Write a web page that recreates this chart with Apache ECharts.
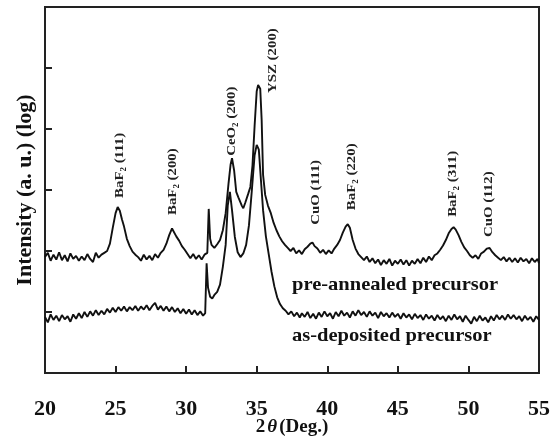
<!DOCTYPE html>
<html><head><meta charset="utf-8">
<script src="https://cdn.jsdelivr.net/npm/echarts@6/dist/echarts.min.js"></script>
<style>html,body{margin:0;padding:0;background:#fff}#c{width:557px;height:437px}</style>
</head><body><div id="c"></div>
<script>
// ---- data ----
const xTicks = [20, 25, 30, 35, 40, 45, 50, 55];
const preAnnealed = [[20.0,1.90],[20.2,1.97],[20.4,1.84],[20.6,1.94],[20.8,1.86],[21.0,1.98],[21.2,1.85],[21.4,1.93],[21.6,1.83],[21.8,1.96],[22.0,1.87],[22.2,1.92],[22.4,1.84],[22.6,1.91],[22.8,1.85],[23.0,1.95],[23.2,1.87],[23.4,1.82],[23.6,1.97],[23.8,1.89],[24.0,1.94],[24.2,1.97],[24.4,2.00],[24.6,2.12],[24.8,2.38],[25.0,2.62],[25.15,2.72],[25.3,2.66],[25.45,2.52],[25.6,2.40],[25.8,2.20],[26.0,2.08],[26.2,1.99],[26.4,1.94],[26.6,1.90],[26.8,1.84],[27.0,1.94],[27.2,1.86],[27.4,1.92],[27.6,1.85],[27.8,1.95],[28.0,1.89],[28.2,1.97],[28.4,2.02],[28.6,2.12],[28.8,2.26],[29.0,2.37],[29.1,2.36],[29.3,2.24],[29.5,2.17],[29.7,2.08],[29.9,2.02],[30.1,1.95],[30.3,1.88],[30.5,1.95],[30.7,1.87],[30.9,1.93],[31.1,1.86],[31.3,1.94],[31.5,1.97],[31.6,2.69],[31.7,2.20],[31.8,2.10],[32.0,2.05],[32.2,2.11],[32.4,2.18],[32.6,2.34],[32.8,2.62],[33.0,3.10],[33.15,3.42],[33.25,3.52],[33.4,3.32],[33.55,2.97],[33.7,2.88],[33.8,2.90],[33.95,2.74],[34.05,2.70],[34.2,2.80],[34.4,2.94],[34.55,3.05],[34.7,3.40],[34.85,4.05],[35.0,4.62],[35.1,4.72],[35.25,4.66],[35.35,4.15],[35.45,3.25],[35.6,2.92],[35.8,2.74],[36.0,2.62],[36.2,2.46],[36.4,2.34],[36.6,2.24],[36.8,2.16],[37.0,2.10],[37.2,2.05],[37.4,2.00],[37.6,2.05],[37.8,1.96],[38.0,2.01],[38.2,1.95],[38.4,2.03],[38.6,2.07],[38.8,2.12],[38.95,2.14],[39.1,2.08],[39.3,2.04],[39.5,1.97],[39.7,2.02],[39.9,1.95],[40.1,2.01],[40.3,1.96],[40.5,2.04],[40.7,2.10],[40.9,2.18],[41.1,2.30],[41.3,2.40],[41.45,2.44],[41.6,2.38],[41.8,2.18],[42.0,2.04],[42.2,1.95],[42.4,1.90],[42.6,1.85],[42.8,1.91],[43.0,1.82],[43.2,1.88],[43.4,1.80],[43.6,1.86],[43.8,1.77],[44.0,1.85],[44.2,1.79],[44.4,1.87],[44.6,1.76],[44.8,1.84],[45.0,1.79],[45.2,1.86],[45.4,1.78],[45.6,1.85],[45.8,1.76],[46.0,1.84],[46.2,1.79],[46.4,1.87],[46.6,1.80],[46.8,1.89],[47.0,1.82],[47.2,1.91],[47.4,1.85],[47.6,1.93],[47.8,1.96],[48.0,2.02],[48.2,2.09],[48.4,2.18],[48.6,2.29],[48.8,2.36],[48.95,2.39],[49.1,2.35],[49.3,2.26],[49.5,2.15],[49.7,2.06],[49.9,2.00],[50.1,1.93],[50.3,1.89],[50.5,1.93],[50.7,1.87],[50.9,1.96],[51.1,1.99],[51.3,2.04],[51.5,2.05],[51.7,1.98],[51.9,1.93],[52.1,1.89],[52.3,1.85],[52.5,1.90],[52.7,1.83],[52.9,1.89],[53.1,1.82],[53.3,1.88],[53.5,1.81],[53.7,1.89],[53.9,1.83],[54.1,1.87],[54.3,1.80],[54.5,1.88],[54.7,1.82],[54.9,1.87],[55.0,1.80]];
const asDeposited = [[20.0,0.92],[20.2,0.83],[20.4,0.96],[20.6,0.87],[20.8,0.94],[21.0,0.85],[21.2,0.95],[21.4,0.88],[21.6,0.93],[21.8,0.84],[22.0,0.96],[22.2,0.89],[22.4,0.98],[22.6,0.90],[22.8,1.00],[23.0,0.92],[23.2,1.01],[23.4,0.94],[23.6,1.03],[23.8,0.95],[24.0,1.02],[24.2,0.96],[24.4,1.05],[24.6,0.99],[24.8,1.07],[25.0,1.00],[25.2,1.08],[25.4,1.02],[25.6,1.09],[25.8,1.01],[26.0,1.08],[26.2,1.03],[26.4,1.10],[26.6,1.02],[26.8,1.09],[27.0,1.04],[27.2,1.11],[27.4,1.03],[27.6,1.10],[27.8,1.15],[28.0,1.04],[28.2,1.10],[28.4,1.02],[28.6,1.09],[28.8,1.01],[29.0,1.08],[29.2,1.00],[29.4,1.06],[29.6,0.98],[29.8,1.05],[30.0,0.97],[30.2,1.04],[30.4,0.96],[30.6,1.03],[30.8,0.95],[31.0,1.01],[31.2,0.94],[31.35,0.98],[31.45,1.80],[31.55,1.40],[31.7,1.25],[31.85,1.22],[32.0,1.28],[32.2,1.33],[32.4,1.45],[32.6,1.74],[32.8,2.10],[32.95,2.75],[33.1,2.97],[33.25,2.67],[33.45,2.23],[33.65,1.98],[33.85,1.90],[34.05,1.96],[34.25,2.10],[34.45,2.42],[34.65,2.98],[34.85,3.57],[35.0,3.74],[35.15,3.66],[35.3,3.16],[35.45,2.67],[35.65,2.24],[35.85,1.95],[36.05,1.66],[36.25,1.42],[36.45,1.24],[36.65,1.13],[36.85,1.06],[37.05,1.02],[37.25,0.96],[37.45,1.01],[37.65,0.93],[37.85,0.99],[38.05,0.91],[38.2,0.98],[38.4,0.92],[38.6,1.00],[38.8,0.90],[39.0,0.97],[39.2,0.89],[39.4,0.99],[39.6,0.92],[39.8,1.01],[40.0,0.93],[40.2,0.98],[40.4,0.89],[40.6,1.00],[40.8,0.93],[41.0,1.02],[41.2,0.94],[41.4,0.99],[41.6,0.91],[41.8,1.01],[42.0,0.94],[42.2,1.03],[42.4,0.95],[42.6,1.00],[42.8,0.92],[43.0,1.01],[43.2,0.94],[43.4,0.99],[43.6,0.90],[43.8,1.00],[44.0,0.93],[44.2,0.98],[44.4,0.91],[44.6,0.99],[44.8,0.92],[45.0,0.97],[45.2,0.89],[45.4,0.98],[45.6,0.91],[45.8,0.96],[46.0,0.88],[46.2,0.97],[46.4,0.90],[46.6,0.95],[46.8,0.87],[47.0,0.96],[47.2,0.89],[47.4,0.94],[47.6,0.86],[47.8,0.95],[48.0,0.88],[48.2,0.93],[48.4,0.85],[48.6,0.94],[48.8,0.87],[49.0,0.96],[49.2,0.88],[49.4,0.93],[49.6,0.84],[49.8,0.94],[50.0,0.87],[50.2,0.81],[50.4,0.92],[50.6,0.85],[50.8,0.94],[51.0,0.86],[51.2,0.91],[51.4,0.83],[51.6,0.93],[51.8,0.86],[52.0,0.95],[52.2,0.88],[52.4,0.94],[52.6,0.87],[52.8,0.96],[53.0,0.89],[53.2,0.95],[53.4,0.88],[53.6,0.93],[53.8,0.85],[54.0,0.94],[54.2,0.87],[54.4,0.92],[54.6,0.84],[54.8,0.93],[55.0,0.87]];
const peakNames = ['BaF₂ (111)', 'BaF₂ (200)', 'CeO₂ (200)', 'YSZ (200)', 'CuO (111)', 'BaF₂ (220)', 'BaF₂ (311)', 'CuO (112)'];
const peakAt = [[25.3, 2.87], [29.05, 2.59], [33.2, 3.56], [36.1, 4.59], [39.15, 2.43], [41.7, 2.67], [48.9, 2.56], [51.4, 2.23]];
const seriesNames = ['pre-annealed precursor', 'as-deposited precursor'];
const seriesNameAt = [[37.5, 1.44], [37.5, 0.61]];

const FONT = '"Liberation Serif", "Times New Roman", serif';
const chart = echarts.init(document.getElementById('c'));
chart.setOption({
  animation: false,
  backgroundColor: '#fff',
  grid: { left: 45, top: 7, right: 18, bottom: 64, outerBoundsMode: 'none', containLabel: false,
          show: true, borderColor: '#222', borderWidth: 2, backgroundColor: 'transparent' },
  xAxis: {
    type: 'value', min: xTicks[0], max: xTicks[xTicks.length - 1], interval: 5,
    axisLine: { show: true, lineStyle: { color: '#222', width: 2 } },
    axisTick: { inside: true, length: 7, lineStyle: { color: '#222', width: 2 } },
    axisLabel: { fontFamily: FONT, fontWeight: 'bold', fontSize: 22, color: '#111', margin: 25 },
    splitLine: { show: false },
    name: '{b|2}{i|θ}{b|(Deg.)}', nameLocation: 'middle', nameGap: 45, nameMoveOverlap: false,
    nameTextStyle: { rich: {
      b: { fontFamily: FONT, fontWeight: 'bold', fontSize: 19, color: '#111' },
      i: { fontFamily: FONT, fontStyle: 'italic', fontWeight: 'bold', fontSize: 19, color: '#111', padding: [0, 2, 0, 2] }
    } }
  },
  yAxis: {
    type: 'value', min: 0, max: 6, interval: 1,
    axisLine: { show: true, lineStyle: { color: '#222', width: 2 } },
    axisTick: { inside: true, length: 7, lineStyle: { color: '#222', width: 2 } },
    axisLabel: { show: false },
    splitLine: { show: false },
    name: 'Intensity (a. u.) (log)', nameLocation: 'middle', nameGap: 9, nameRotate: 90, nameMoveOverlap: false,
    nameTextStyle: { fontFamily: FONT, fontWeight: 'bold', fontSize: 22, color: '#111' }
  },
  series: [
    { type: 'line', data: preAnnealed, showSymbol: false, lineStyle: { color: '#111', width: 1.9 } },
    { type: 'line', data: asDeposited, showSymbol: false, lineStyle: { color: '#111', width: 1.9 } }
  ]
});

function place() {
  const els = [];
  peakNames.forEach((t, i) => {
    const p = chart.convertToPixel({ gridIndex: 0 }, peakAt[i]);
    els.push({ type: 'text', x: p[0], y: p[1], rotation: Math.PI / 2, scaleX: 1.1,
      style: { text: t, fontFamily: FONT, fontWeight: 'bold', fontSize: 13.5, fill: '#222', align: 'left', verticalAlign: 'middle' } });
  });
  seriesNames.forEach((t, i) => {
    const p = chart.convertToPixel({ gridIndex: 0 }, seriesNameAt[i]);
    els.push({ type: 'text', x: p[0], y: p[1], scaleX: 1.08,
      style: { text: t, fontFamily: FONT, fontWeight: 'bold', fontSize: 19, fill: '#111', align: 'left', verticalAlign: 'middle' } });
  });
  chart.setOption({ graphic: els });
}
place();
</script></body></html>
